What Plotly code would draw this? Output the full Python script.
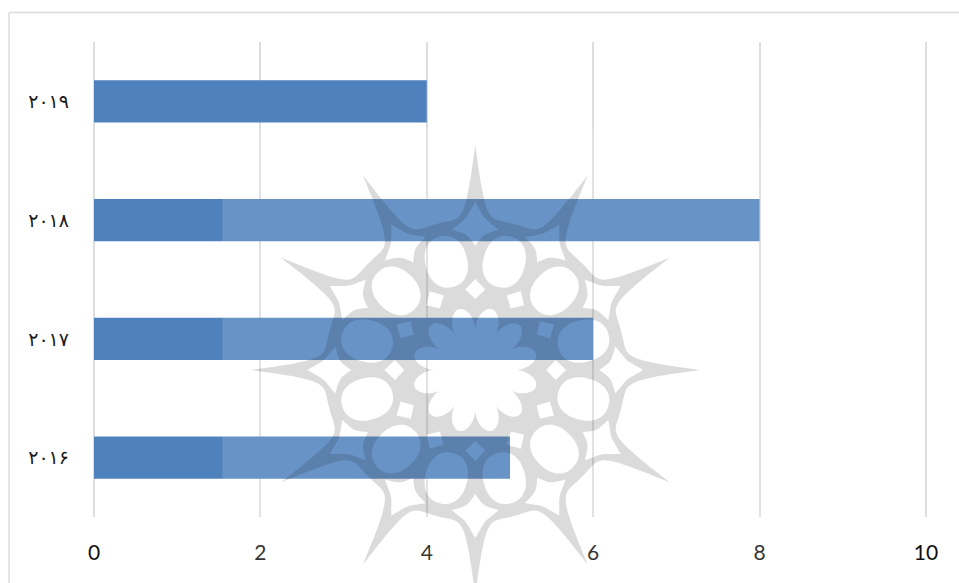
import math
import plotly.graph_objects as go

years = ["۲۰۱۶", "۲۰۱۷", "۲۰۱۸", "۲۰۱۹"]
values = [5, 6, 8, 4]
x_ticks = [0, 2, 4, 6, 8, 10]

W, H = 959, 583
X0, X10 = 93.5, 926.0          # pixel positions of the values 0 and 10
PAD = 2.0                      # room so the end gridlines are kept
L, R, T, B = X0 - PAD, X10 + PAD, 42.0, 517.0
PER_UNIT = (X10 - X0) / 10
CX, CY = 475.0, 370.0


def px(x):
    return (x - L) / (R - L)


def py(y):
    return (B - y) / (B - T)


def pt(theta_deg, r, cx=CX, cy=CY):
    a = math.radians(theta_deg)
    return cx + r * math.sin(a), cy - r * math.cos(a)


def closed(points):
    return "M" + "L".join(f"{px(x):.5f},{py(y):.5f}" for x, y in points) + "Z"


def silhouette():
    out = []
    for k in range(12):
        for i in range(30):
            t = i / 30
            u = abs(2 * t - 1)
            r = 151 + 74 * u ** 6
            out.append(pt(30 * k + 30 * t, r))
    return closed(out)


def flower():
    out = []
    for i in range(360):
        phi = i - 15
        c = abs(math.cos(math.radians(6 * phi)))
        out.append(pt(i, 42 + 21 * c ** 0.7))
    return closed(out)


def oval(theta):
    cx, cy = pt(theta, 112)
    a = math.radians(theta)
    out = []
    for i in range(48):
        s = 2 * math.pi * i / 48
        # slightly squared oval, long axis radial
        cs, sn = math.cos(s), math.sin(s)
        rad = 26 * math.copysign(abs(cs) ** 0.9, cs)
        tan = 21 * math.copysign(abs(sn) ** 0.9, sn)
        out.append((cx + rad * math.sin(a) + tan * math.cos(a),
                    cy - rad * math.cos(a) + tan * math.sin(a)))
    return closed(out)


def curved_kite(theta, r_out, r_in, r_side, half):
    """Four-cornered hole with concave sides, pointing outward."""
    corners = [(r_out, 0), (r_side, half), (r_in, 0), (r_side, -half)]
    out = []
    for j in range(4):
        r0, d0 = corners[j]
        r1, d1 = corners[(j + 1) % 4]
        for i in range(10):
            t = i / 10
            bow = 1 - 0.22 * math.sin(math.pi * t)
            mid_r = r_side + ((r0 + (r1 - r0) * t) - r_side) * bow
            mid_d = (d0 + (d1 - d0) * t) * bow
            out.append(pt(theta + mid_d, mid_r))
    return closed(out)


def diamond(theta, r, size):
    c = [(r + size, 0), (r, size / r * 57.3), (r - size, 0), (r, -size / r * 57.3)]
    return closed([pt(theta + d, q) for q, d in c])


parts = [silhouette(), flower()]
for k in range(12):
    parts.append(oval(15 + 30 * k))
    parts.append(curved_kite(30 * k, 168, 124, 142, 9.5))
    parts.append(diamond(30 * k, 81, 10))
ornament = "".join(parts)

fig = go.Figure(
    go.Bar(
        y=years,
        x=values,
        orientation="h",
        marker=dict(color="#4f81bd", line=dict(width=0)),
        hoverinfo="skip",
    )
)

fig.update_layout(
    width=W,
    height=H,
    autosize=False,
    margin=dict(l=L, r=W - R, t=T, b=H - B, pad=0),
    paper_bgcolor="white",
    plot_bgcolor="white",
    showlegend=False,
    bargap=0.646,
    shapes=[
        # outer frame of the picture: top and left edges only
        dict(type="line", xref="paper", yref="paper", x0=px(8.5), x1=px(W + 2),
             y0=py(12.5), y1=py(12.5), line=dict(color="#dcdcdc", width=1.5), layer="below"),
        dict(type="line", xref="paper", yref="paper", x0=px(8.5), x1=px(8.5),
             y0=py(12.5), y1=py(H + 2), line=dict(color="#dcdcdc", width=1.5), layer="below"),
        # translucent wash of the watermark picture
        dict(type="rect", xref="paper", yref="paper", x0=px(222), x1=px(775),
             y0=py(130), y1=py(H + 2), fillcolor="rgba(255,255,255,0.145)",
             line=dict(width=0), layer="above"),
        # watermark ornament
        dict(type="path", xref="paper", yref="paper", path=ornament,
             fillcolor="rgba(24,24,24,0.155)", fillrule="evenodd",
             line=dict(width=0), layer="above"),
    ],
)

fig.update_xaxes(
    range=[-PAD / PER_UNIT, 10 + PAD / PER_UNIT],
    tickvals=x_ticks,
    ticktext=[str(v) for v in x_ticks],
    showgrid=True,
    gridcolor="#dedede",
    gridwidth=1.5,
    zeroline=False,
    showline=False,
    ticks="",
    ticklabelstandoff=21,
    tickfont=dict(family="Lato", size=21, color="#111111"),
)
fig.update_yaxes(
    type="category",
    categoryorder="array",
    categoryarray=years,
    showgrid=False,
    zeroline=False,
    showline=False,
    ticks="",
    ticklabelstandoff=22,
    tickfont=dict(family="DejaVu Sans", size=19, color="#1a1a1a"),
)

fig.write_html(
    "out.html",
    config={"displayModeBar": False},
    post_script="document.body.style.margin='0';",
)
